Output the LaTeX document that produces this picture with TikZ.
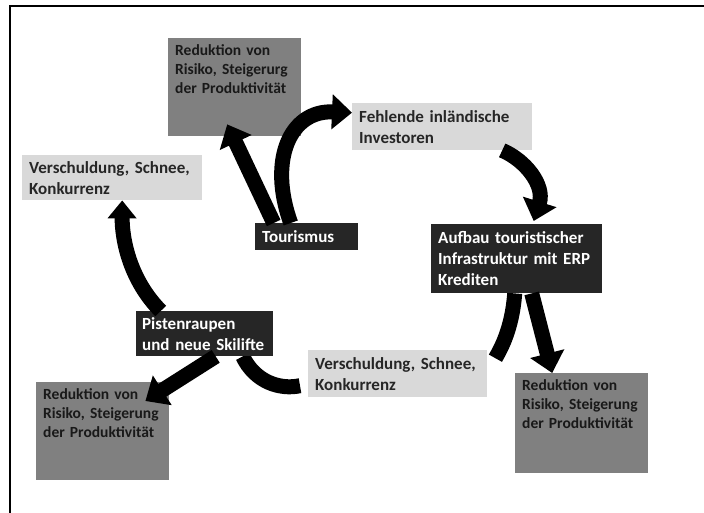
\documentclass[tikz,border=0pt]{standalone}
\usepackage{fontspec}
\setmainfont{Carlito}
\usetikzlibrary{arrows.meta}
\usetikzlibrary{positioning}
\pgfdeclarelayer{background}
\pgfsetlayers{background,main}
\definecolor{darkbox}{HTML}{262626}
\definecolor{lightbox}{HTML}{D9D9D9}
\definecolor{greybox}{HTML}{808080}
\tikzset{
    boxnode/.style = {rectangle, align=left, anchor=north west, inner xsep=7pt,
        inner ysep=0pt, font=\bfseries\fontsize{17}{21}\selectfont},
    box_d/.style = {boxnode, fill=darkbox, text=white},% dunkle Box
    box_l/.style = {boxnode, fill=lightbox, text=black!85},% helle Box
    box_g/.style = {boxnode, fill=greybox, text=black!90, inner ysep=5pt,
        font=\bfseries\fontsize{15.5}{19}\selectfont,
        text width=119pt, text height=12pt, text depth=76pt},% graue Box, Text oben
    flow/.style = {line width=15pt},
}

\begin{document}
\begin{tikzpicture}[x=1pt,y=-1pt,>={Triangle[width=34pt,length=20pt]}]
\useasboundingbox (0,0) rectangle (704,513);
\draw[line width=1.5pt] (10,513) |- (704,6);

\node[box_g] (red_top) at (168,38) {Reduktion von\\Risiko, Steigerurg\\der Produktivität};
\node[box_l, text width=166pt, minimum height=47pt] (invest) at (352,103) {Fehlende inländische\\Investoren};
\node[box_l, text width=166pt, minimum height=45pt] (debt_top) at (22,155) {Verschuldung, Schnee,\\Konkurrenz};
\node[box_d, text width=89pt, minimum height=27pt] (tourism) at (255,223) {Tourismus};
\node[box_d, text width=157pt, minimum height=69pt] (infra) at (431,224) {Aufbau touristischer\\Infrastruktur mit ERP\\Krediten};
\node[box_d, text width=125pt, inner xsep=6pt, minimum height=45pt] (lifts) at (136,311) {Pistenraupen\\und neue Skilifte};
\node[box_l, text width=165pt, minimum height=47pt] (debt_bot) at (308,350) {Verschuldung, Schnee,\\Konkurrenz};
\node[box_g] (red_left) at (36,382) {Reduktion von\\Risiko, Steigerung\\der Produktivität};
\node[box_g, text depth=78pt] (red_right) at (515,373) {Reduktion von\\Risiko, Steigerung\\der Produktivität};

% Boegen unter den Boxen
\begin{pgfonlayer}{background}
\draw[flow] ([xshift=-2pt]infra.south) .. controls (512,330) and (500,350) .. ([xshift=8pt,yshift=15.5pt]debt_bot.east);
\draw[flow] ([xshift=38pt]lifts.south) .. controls (255,382) and (280,390) .. ([xshift=-8pt,yshift=-12pt]debt_bot.west);
\end{pgfonlayer}

% Pfeile
\draw[flow,->] ([xshift=-33pt]tourism.north) -- ([xshift=-7.5pt,yshift=12pt]red_top.south);
\draw[flow,->] ([xshift=-16pt]tourism.north) .. controls (268,160) and (290,110) .. ([yshift=14pt]invest.west);
\draw[flow,->] ([xshift=60pt]invest.south) .. controls (525,160) and (545,185) .. ([xshift=17pt,yshift=3pt]infra.north);
\draw[flow,->] ([xshift=15pt]infra.south) -- ([xshift=-29.5pt]red_right.north);
\draw[flow,-{Triangle[width=28pt,length=18pt]}] ([xshift=-44pt]lifts.north) .. controls (130,280) and (122,240) .. ([xshift=10pt]debt_top.south);
\draw[flow,->] ([xshift=11pt]lifts.south) -- ([xshift=-24pt,yshift=-19pt]red_left.north east);
\end{tikzpicture}
\end{document}
